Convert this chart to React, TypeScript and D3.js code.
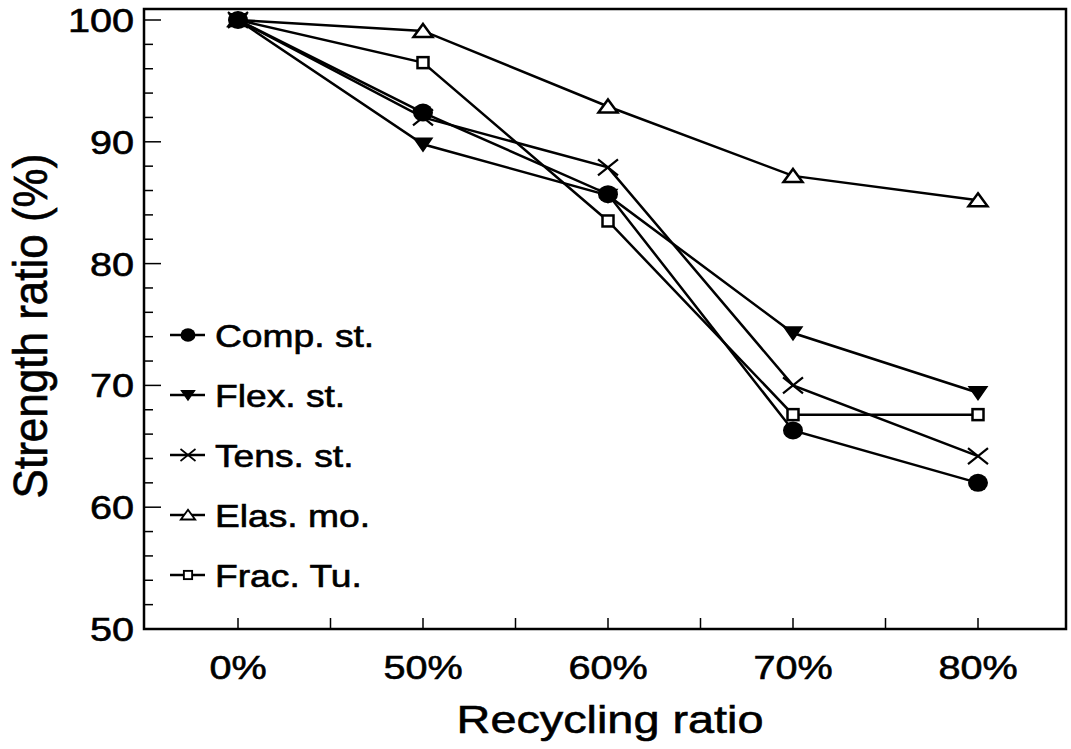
import React from "react";
import * as d3 from "d3";

const categories = ["0%", "50%", "60%", "70%", "80%"];
const compSt = [100, 92.4, 85.7, 66.3, 62.0];
const flexSt = [100, 89.8, 85.6, 74.3, 69.4];
const tensSt = [100, 92.0, 87.9, 70.0, 64.2];
const elasMo = [100, 99.1, 92.9, 87.2, 85.2];
const fracTu = [100, 96.5, 83.5, 67.6, 67.6];
const yTicks = [50, 60, 70, 80, 90, 100];

const series = [
  { name: "Comp. st.", values: compSt, marker: "circle" },
  { name: "Flex. st.", values: flexSt, marker: "down" },
  { name: "Tens. st.", values: tensSt, marker: "cross" },
  { name: "Elas. mo.", values: elasMo, marker: "up" },
  { name: "Frac. Tu.", values: fracTu, marker: "square" },
];
// filled symbols end up on top, as in the original
const drawOrder = [3, 4, 2, 1, 0];

const W = 1071;
const H = 749;
const left = 144;
const right = 1066;
const top = 9;
const bottom = 629;
const SX = 1.2; // the original lettering is stretched sideways

function Marker({ kind, x, y, s = 1 }: { kind: string; x: number; y: number; s?: number }) {
  const t = `translate(${x},${y}) scale(${s})`;
  if (kind === "circle") return <ellipse transform={t} rx={10} ry={9} fill="#000" />;
  if (kind === "down")
    return <path transform={t} d="M-9,-6L9,-6L0,7Z" fill="#000" stroke="#000" strokeWidth={1.5} />;
  if (kind === "up")
    return <path transform={t} d="M0,-7L9.5,6L-9.5,6Z" fill="#fff" stroke="#000" strokeWidth={2.5} />;
  if (kind === "square")
    return <rect transform={t} x={-5.5} y={-5.5} width={11} height={11} fill="#fff" stroke="#000" strokeWidth={2.5} />;
  return <path transform={t} d="M-10,-8L10,8M-10,8L10,-8" stroke="#000" strokeWidth={2.2} fill="none" />;
}

export default function App() {
  const x = d3.scaleLinear().domain([0, categories.length - 1]).range([238, 978]);
  const y = d3.scaleLinear().domain([50, 100]).range([bottom, 20]);
  const line = d3.line<number>().x((_, i) => x(i)).y((d) => y(d));

  const yMinor = d3.range(50, 101, 2);
  const xMinor = d3.range(0, categories.length - 0.5, 0.5);

  const font = "'Liberation Sans', Arial, Helvetica, sans-serif";
  const txt = { fontFamily: font, fill: "#000", stroke: "#000", strokeWidth: 0.6 };

  return (
    <svg width={W} height={H} style={{ position: "absolute", left: 0, top: 0, background: "#fff" }}>
      <rect x={0} y={0} width={W} height={H} fill="#fff" />
      {/* frame */}
      <rect x={left} y={top} width={right - left} height={bottom - top} fill="none" stroke="#000" strokeWidth={2.5} />
      {/* y ticks */}
      {yMinor.map((v) => (
        <line key={v} x1={left} x2={left + (v % 10 === 0 ? 17 : 9)} y1={y(v)} y2={y(v)} stroke="#000" strokeWidth={1.5} />
      ))}
      {/* x ticks */}
      {xMinor.map((v) => (
        <line key={v} x1={x(v)} x2={x(v)} y1={bottom} y2={bottom - 11} stroke="#000" strokeWidth={1.5} />
      ))}
      {yTicks.map((v) => (
        <text key={v} transform={`translate(134,${y(v) + 12}) scale(${SX},1)`} textAnchor="end" fontSize={33} {...txt}>
          {v}
        </text>
      ))}
      {categories.map((c, i) => (
        <text key={c} transform={`translate(${x(i)},679) scale(${SX},1)`} textAnchor="middle" fontSize={33} {...txt}>
          {c}
        </text>
      ))}
      <text transform={`translate(610,733) scale(${SX},1)`} textAnchor="middle" fontSize={39} {...txt}>
        Recycling ratio
      </text>
      <text transform={`translate(47,326) rotate(-90) scale(1,1.1)`} textAnchor="middle" fontSize={44} {...txt}>
        Strength ratio (%)
      </text>
      {/* series */}
      {drawOrder.map((k) => (
        <path key={series[k].name} d={line(series[k].values) || ""} fill="none" stroke="#000" strokeWidth={2.5} />
      ))}
      {drawOrder.map((k) =>
        series[k].values.map((v, i) => <Marker key={series[k].name + i} kind={series[k].marker} x={x(i)} y={y(v)} />)
      )}
      {/* legend */}
      {series.map((s, i) => {
        const ly = 335 + i * 60;
        return (
          <g key={s.name}>
            <line x1={170} x2={205} y1={ly} y2={ly} stroke="#000" strokeWidth={2.5} />
            <Marker kind={s.marker} x={188} y={ly} s={0.75} />
            <text transform={`translate(215,${ly + 12}) scale(${SX},1)`} fontSize={31} {...txt}>
              {s.name}
            </text>
          </g>
        );
      })}
    </svg>
  );
}
